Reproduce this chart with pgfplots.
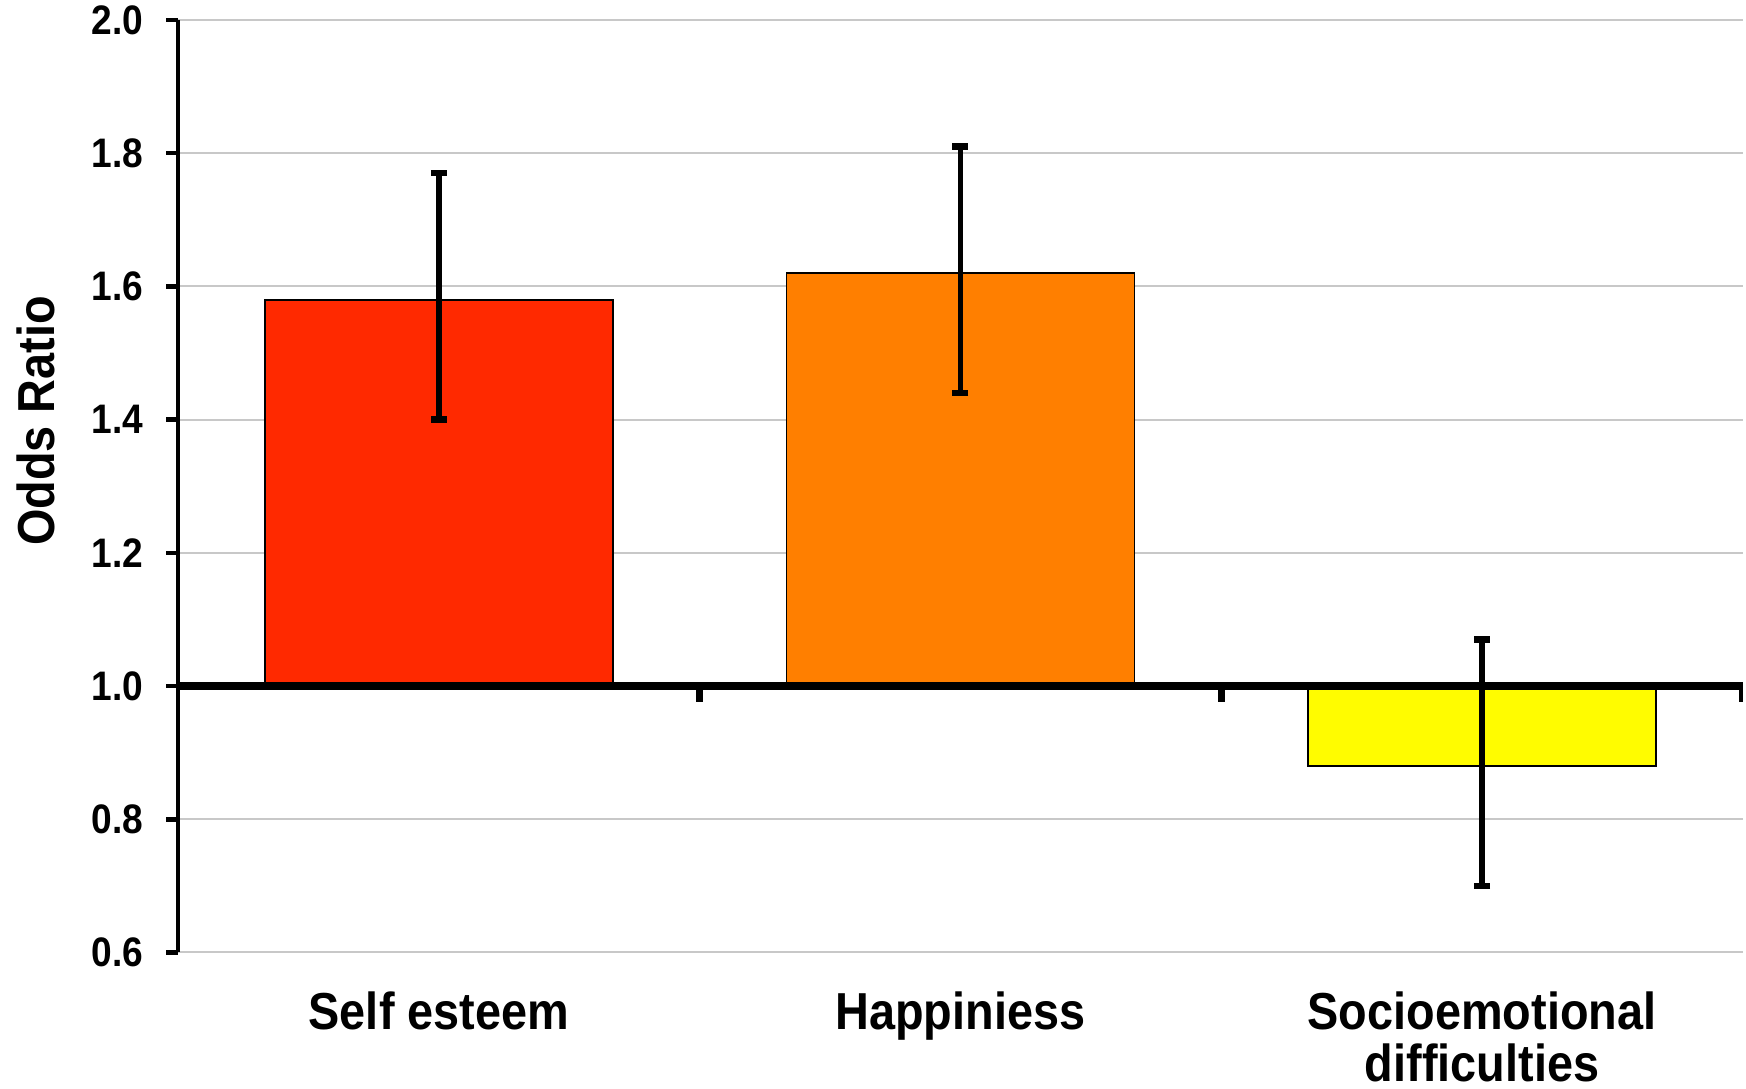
\documentclass[border=0pt]{standalone}
\usepackage{fontspec}
\setmainfont{Liberation Sans}[FakeStretch=0.9]
\usepackage{pgfplots}
\pgfplotsset{compat=1.18}
\definecolor{barred}{RGB}{255,41,0}
\definecolor{barorange}{RGB}{255,127,0}
\definecolor{baryellow}{RGB}{255,252,0}
\definecolor{gridgray}{RGB}{200,200,200}
\begin{document}
\begin{tikzpicture}
\begin{axis}[
  scale only axis, width=391pt, height=233pt,
  ybar, bar width=0.667, bar shift=0pt,
  xmin=-0.5, xmax=2.5, ymin=-0.4, ymax=1.0,
  % bars grow from an odds ratio of 1
  y filter/.expression={y-1},
  axis y line*=left, axis x line*=bottom,
  x axis line style={draw=none},
  y axis line style={line width=1.15pt, -},
  xtick={0,1,2},
  xticklabels={Self esteem,Happiniess,{Socioemotional\\difficulties}},
  xtick style={draw=none},
  xticklabel style={font=\bfseries\fontsize{13}{13}\selectfont, align=center, anchor=north, yshift=-3.5pt},
  ytick={-0.4,-0.2,0,0.2,0.4,0.6,0.8,1.0},
  yticklabels={0.6,0.8,1.0,1.2,1.4,1.6,1.8,2.0},
  ytick style={line width=1.15pt, black},
  tick align=outside, major tick length=2.9pt,
  yticklabel style={font=\bfseries\fontsize{10.3}{12}\selectfont, xshift=-2.3pt},
  ymajorgrids, major grid style={line width=0.5pt, color=gridgray},
  ylabel={Odds Ratio},
  every axis y label/.style={at={(axis description cs:-0.091,0.57)}, rotate=90, anchor=center, font=\bfseries\fontsize{13}{13}\selectfont},
  error bars/y dir=both, error bars/y explicit,
  error bars/error mark=-,
  error bars/error bar style={line width=1.45pt, black},
  error bars/error mark options={rotate=90, mark size=2pt, line width=1.6pt, black},
]
\addplot[fill=barred, draw=black, line width=0.4pt] coordinates {(0,1.58) += (0,0.19) -= (0,0.18)};
\addplot[fill=barorange, draw=black, line width=0.4pt] coordinates {(1,1.62) += (0,0.19) -= (0,0.18)};
\addplot[fill=baryellow, draw=black, line width=0.4pt] coordinates {(2,0.88) += (0,0.19) -= (0,0.18)};
\draw[line width=2.2pt] (axis cs:-0.5,0) -- (axis cs:2.5,0);
\draw[line width=1.8pt] (axis cs:0.5,0) -- ([yshift=-4pt]axis cs:0.5,0);
\draw[line width=1.8pt] (axis cs:1.5,0) -- ([yshift=-4pt]axis cs:1.5,0);
\draw[line width=1.8pt] (axis cs:2.5,0) -- ([yshift=-4pt]axis cs:2.5,0);
\coordinate (bl) at (rel axis cs:0,0);
\coordinate (tr) at (rel axis cs:1,1);
\end{axis}
\pgfresetboundingbox
\path[use as bounding box] ([shift={(-44.5pt,-34pt)}]bl) rectangle ([shift={(0.8pt,5pt)}]tr);
\end{tikzpicture}
\end{document}
